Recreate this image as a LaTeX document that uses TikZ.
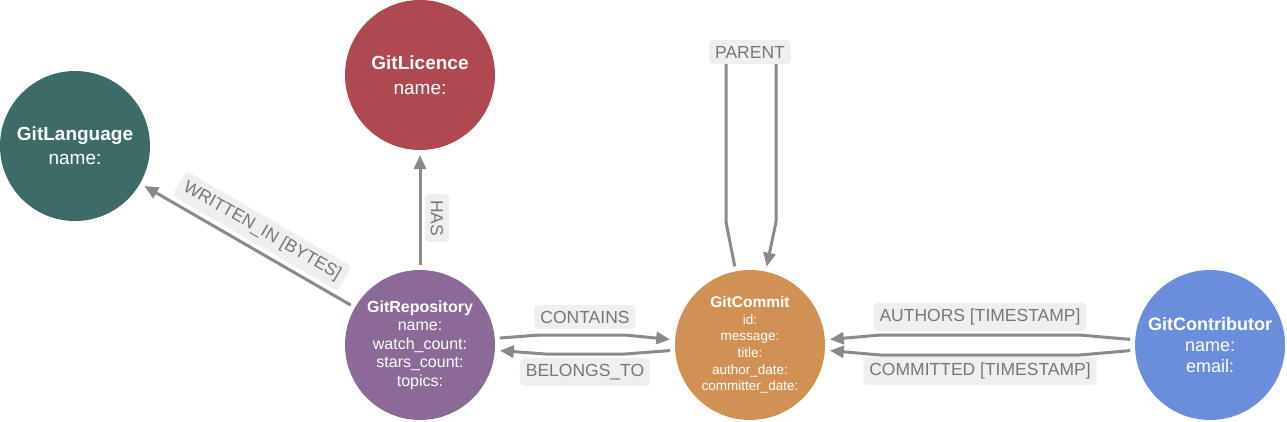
\documentclass[tikz,border=0pt]{standalone}
\usepackage{fontspec}
\setmainfont{Liberation Sans}
\usetikzlibrary{arrows.meta}
\definecolor{langcol}{HTML}{3D6B68}
\definecolor{liccol}{HTML}{AF4850}
\definecolor{repocol}{HTML}{8B6A98}
\definecolor{commitcol}{HTML}{D29154}
\definecolor{contribcol}{HTML}{6A8EDC}
\definecolor{relgray}{HTML}{8A8A8A}
\definecolor{tagbg}{HTML}{EFEFEF}
\definecolor{tagtext}{HTML}{777777}
\begin{document}
\begin{tikzpicture}[x=1pt,y=-1pt]
\tikzstyle{entity}=[circle, minimum size=150pt, inner sep=0pt, outer sep=5pt, text=white, align=center]
\tikzstyle{rel}=[draw=relgray, line width=3pt, line join=round, -{Triangle[length=14pt,width=12pt]}]
\tikzstyle{tag}=[fill=tagbg, rounded corners=4pt, text=tagtext, font=\fontsize{17.5}{17.5}\selectfont, inner xsep=6pt, inner ysep=6pt]
\useasboundingbox (0,0) rectangle (1287,421);
\node[entity, fill=langcol, font=\fontsize{19}{24}\selectfont] (lang) at (75,146) {\textbf{GitLanguage}\\name:};
\node[entity, fill=liccol, font=\fontsize{19}{25}\selectfont] (lic) at (420,75) {\textbf{GitLicence}\\name:};
\node[entity, fill=repocol, font=\fontsize{16}{18.5}\selectfont] (repo) at (420,345) {\textbf{GitRepository}\\name:\\watch\_count:\\stars\_count:\\topics:};
\node[entity, fill=commitcol, font=\fontsize{13.5}{16.6}\selectfont] (commit) at (750,345) {{\fontsize{15.5}{17}\selectfont\bfseries GitCommit}\\id:\\message:\\title:\\author\_date:\\committer\_date:};
\node[entity, fill=contribcol, font=\fontsize{18}{21}\selectfont] (contrib) at (1210,345) {\textbf{GitContributor}\\name:\\email:};
\draw[rel] (repo) -- (lic);
\draw[rel] (repo) -- (lang);
\draw[rel] (repo.5) -- (540,335) -- (625,335) -- (commit.176);
\draw[rel] (commit.184) -- (625,354) -- (545,354) -- (repo.-4);
\draw[rel] (contrib.176) -- (1080,335) -- (880,335) -- (commit.4);
\draw[rel] (contrib.184) -- (1080,355) -- (880,355) -- (commit.-4);
\draw[rel] (commit.101) -- (726,222) -- (726,55) -- (776,55) -- (776,222) -- (commit.78);
\node[tag] (parent) at (750,52) {PARENT};
\node[tag, rotate=-90] (has) at (437,218) {HAS};
\node[tag, rotate=-30] (writtenin) at (262,231) {WRITTEN\_IN [BYTES]};
\node[tag] (contains) at (585,317) {CONTAINS};
\node[tag] (belongsto) at (585,372) {BELONGS\_TO};
\node[tag] (authors) at (980,317) {AUTHORS [TIMESTAMP]};
\node[tag] (committed) at (980,371) {COMMITTED [TIMESTAMP]};
\end{tikzpicture}
\end{document}
